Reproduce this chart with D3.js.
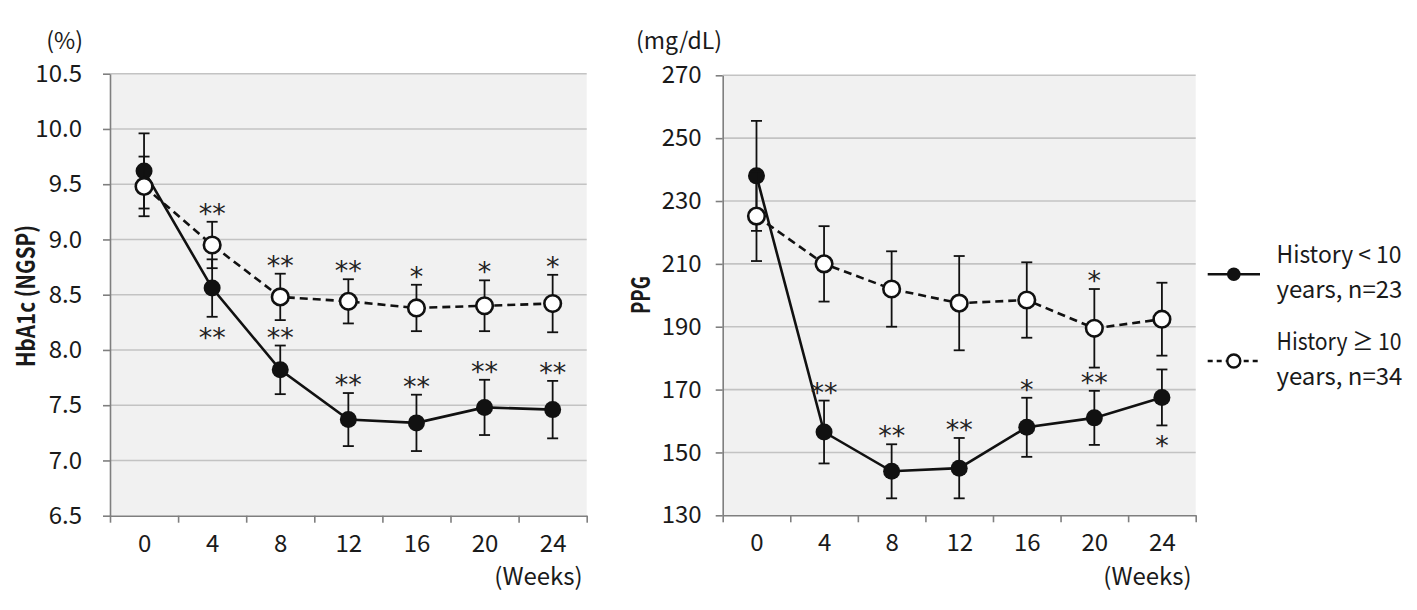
<!DOCTYPE html>
<html>
<head>
<meta charset="utf-8">
<script src="https://cdn.jsdelivr.net/npm/d3@7"></script>
<style>
  html, body { margin: 0; padding: 0; background: #fff; }
  svg { display: block; }
  text { font-family: "Noto Sans CJK JP", "Noto Sans", sans-serif; fill: #1a1a1a; }
</style>
</head>
<body>
<svg id="chart" width="1417" height="610"></svg>
<script>
// ---------------- DATA ----------------
const weeks = [0, 4, 8, 12, 16, 20, 24];
const weekBoundaries = [-2, 2, 6, 10, 14, 18, 22, 26];

const hba1cTicks = [6.5, 7.0, 7.5, 8.0, 8.5, 9.0, 9.5, 10.0, 10.5];
const ppgTicks = [130, 150, 170, 190, 210, 230, 250, 270];

// History < 10 years (filled circles, solid line)
const hba1cShort    = [9.62, 8.56, 7.82, 7.37, 7.34, 7.48, 7.46];
const hba1cShortErr = [0.34, 0.26, 0.22, 0.24, 0.255, 0.25, 0.26];
const hba1cShortSig = ["", "**", "**", "**", "**", "**", "**"];
const hba1cShortSigSide = ["", "below", "above", "above", "above", "above", "above"];

// History >= 10 years (open circles, dashed line)
const hba1cLong    = [9.48, 8.95, 8.48, 8.44, 8.38, 8.40, 8.42];
const hba1cLongErr = [0.27, 0.21, 0.21, 0.20, 0.21, 0.23, 0.26];
const hba1cLongSig = ["", "**", "**", "**", "*", "*", "*"];
const hba1cLongSigSide = ["", "above", "above", "above", "above", "above", "above"];

const ppgShort    = [238, 156.5, 144, 145, 158, 161, 167.5];
const ppgShortErr = [17.5, 10, 8.6, 9.6, 9.4, 8.6, 8.9];
const ppgShortSig = ["", "**", "**", "**", "*", "**", "*"];
const ppgShortSigSide = ["", "above", "above", "above", "above", "above", "below"];

const ppgLong    = [225.2, 210, 202, 197.5, 198.5, 189.5, 192.4];
const ppgLongErr = [14.3, 12, 12, 15, 12, 12.5, 11.6];
const ppgLongSig = ["", "", "", "", "", "*", ""];
const ppgLongSigSide = ["", "", "", "", "", "above", ""];

const legendLabels = [["History < 10", "years, n=23"], ["History \u2265 10", "years, n=34"]];

// ---------------- DRAW ----------------
const svg = d3.select("#chart");
svg.append("rect").attr("width", 1417).attr("height", 610).attr("fill", "#fff");

const AXIS = "#7f7f7f", GRID = "#c3c3c3", BG = "#f1f1f1";
const FS = 24;

function panel(p) {
  const x = d3.scaleLinear().domain([weekBoundaries[0], weekBoundaries[weekBoundaries.length - 1]]).range([p.x0, p.x1]);
  const y = d3.scaleLinear().domain([p.ticks[0], p.ticks[p.ticks.length - 1]]).range([p.y1, p.y0]);
  const g = svg.append("g");

  g.append("rect").attr("x", p.x0).attr("y", y(p.ticks[p.ticks.length - 1]))
    .attr("width", p.x1 - p.x0).attr("height", y(p.ticks[0]) - y(p.ticks[p.ticks.length - 1]))
    .attr("fill", BG);

  g.selectAll("line.grid").data(p.ticks.slice(1)).join("line").attr("class", "grid")
    .attr("x1", p.x0).attr("x2", p.x1).attr("y1", d => y(d)).attr("y2", d => y(d))
    .attr("stroke", GRID).attr("stroke-width", 1.6);

  // y axis
  const ya = g.append("g").attr("transform", `translate(${p.x0},0)`)
    .call(d3.axisLeft(y).tickValues(p.ticks).tickFormat(p.fmt).tickSize(7).tickSizeOuter(0).tickPadding(p.ypad));
  ya.select(".domain").attr("stroke", AXIS).attr("stroke-width", 1.6);
  ya.selectAll(".tick line").attr("stroke", AXIS).attr("stroke-width", 1.6);
  ya.selectAll(".tick text").attr("font-size", FS).attr("font-family", null).style("fill", "#1a1a1a");

  // x axis: boundary ticks
  const xb = g.append("g").attr("transform", `translate(0,${y(p.ticks[0])})`)
    .call(d3.axisBottom(x).tickValues(weekBoundaries).tickFormat("").tickSize(7).tickSizeOuter(0));
  xb.select(".domain").attr("stroke", AXIS).attr("stroke-width", 1.6);
  xb.selectAll(".tick line").attr("stroke", AXIS).attr("stroke-width", 1.6);
  // x axis: labels
  const xl = g.append("g").attr("transform", `translate(0,${y(p.ticks[0])})`)
    .call(d3.axisBottom(x).tickValues(weeks).tickFormat(d3.format("d")).tickSize(0).tickPadding(19));
  xl.select(".domain").remove();
  xl.selectAll(".tick text").attr("font-size", FS).attr("font-family", null).style("fill", "#1a1a1a");

  g.append("text").attr("x", p.x1 - 4).attr("y", 585).attr("text-anchor", "end")
    .attr("font-size", FS).text("(Weeks)");
  g.append("text").attr("x", p.unitX).attr("y", 49).attr("text-anchor", "end")
    .attr("font-size", 23).text(p.unit);
  g.append("text").attr("transform", `translate(${p.titleX},${p.titleY}) rotate(-90)`)
    .attr("text-anchor", "middle").attr("font-size", p.titleFS).attr("font-weight", "bold")
    .attr("textLength", p.titleLen).attr("lengthAdjust", "spacingAndGlyphs").text(p.title);

  const series = [
    { v: p.shortV, e: p.shortE, sig: p.shortSig, side: p.shortSide, filled: true },
    { v: p.longV, e: p.longE, sig: p.longSig, side: p.longSide, filled: false }
  ];
  series.forEach(s => {
    const data = weeks.map((w, i) => ({ w, v: s.v[i], e: s.e[i], sig: s.sig[i], side: s.side[i] }));
    const sg = g.append("g");
    // error bars
    sg.selectAll("line.eb").data(data).join("line")
      .attr("x1", d => x(d.w)).attr("x2", d => x(d.w))
      .attr("y1", d => y(d.v - d.e)).attr("y2", d => y(d.v + d.e))
      .attr("stroke", "#111").attr("stroke-width", 1.8);
    sg.selectAll("line.capT").data(data).join("line")
      .attr("x1", d => x(d.w) - 5.5).attr("x2", d => x(d.w) + 5.5)
      .attr("y1", d => y(d.v + d.e)).attr("y2", d => y(d.v + d.e))
      .attr("stroke", "#111").attr("stroke-width", 1.8);
    sg.selectAll("line.capB").data(data).join("line")
      .attr("x1", d => x(d.w) - 5.5).attr("x2", d => x(d.w) + 5.5)
      .attr("y1", d => y(d.v - d.e)).attr("y2", d => y(d.v - d.e))
      .attr("stroke", "#111").attr("stroke-width", 1.8);
    // line
    sg.append("path").datum(data)
      .attr("d", d3.line().x(d => x(d.w)).y(d => y(d.v)))
      .attr("fill", "none").attr("stroke", "#111").attr("stroke-width", 2.6)
      .attr("stroke-dasharray", s.filled ? null : "8,5");
    // markers
    sg.selectAll("circle").data(data).join("circle")
      .attr("cx", d => x(d.w)).attr("cy", d => y(d.v))
      .attr("r", s.filled ? 8.5 : 8.3)
      .attr("fill", s.filled ? "#111" : "#fff")
      .attr("stroke", "#111").attr("stroke-width", s.filled ? 0 : 2.6);
    // significance
    sg.selectAll("text.sig").data(data.filter(d => d.sig)).join("text")
      .attr("x", d => x(d.w)).attr("text-anchor", "middle")
      .attr("y", d => d.side === "below" ? y(d.v - d.e) + 30 : y(d.v + d.e) + 1)
      .style("font-family", "'DejaVu Sans', sans-serif").style("fill", "#222")
      .attr("font-size", 27).text(d => d.sig);
  });
}

panel({
  x0: 110, x1: 586.7, y0: 73.7, y1: 515.7, ticks: hba1cTicks, fmt: d3.format(".1f"), ypad: 21,
  shortV: hba1cShort, shortE: hba1cShortErr, shortSig: hba1cShortSig, shortSide: hba1cShortSigSide,
  longV: hba1cLong, longE: hba1cLongErr, longSig: hba1cLongSig, longSide: hba1cLongSigSide,
  unit: "(%)", unitX: 83, title: "HbA1c (NGSP)", titleX: 35, titleY: 296, titleFS: 25, titleLen: 142
});
panel({
  x0: 722.7, x1: 1195.7, y0: 75.3, y1: 515.3, ticks: ppgTicks, fmt: d3.format("d"), ypad: 14,
  shortV: ppgShort, shortE: ppgShortErr, shortSig: ppgShortSig, shortSide: ppgShortSigSide,
  longV: ppgLong, longE: ppgLongErr, longSig: ppgLongSig, longSide: ppgLongSigSide,
  unit: "(mg/dL)", unitX: 722, title: "PPG", titleX: 650, titleY: 295, titleFS: 25, titleLen: 38
});

// legend
const lg = svg.append("g");
const legendY = [274.3, 361];
legendLabels.forEach((lab, i) => {
  const yy = legendY[i];
  lg.append("line").attr("x1", 1207.7).attr("x2", 1260).attr("y1", yy).attr("y2", yy)
    .attr("stroke", "#111").attr("stroke-width", 2.6).attr("stroke-dasharray", i === 0 ? null : "5,4");
  lg.append("circle").attr("cx", 1233.8).attr("cy", yy).attr("r", i === 0 ? 6.8 : 6.5)
    .attr("fill", i === 0 ? "#111" : "#fff").attr("stroke", "#111").attr("stroke-width", i === 0 ? 0 : 2.4);
  lg.append("text").attr("x", 1276.5).attr("y", yy - 11).attr("font-size", FS)
    .attr("textLength", 125).attr("lengthAdjust", "spacingAndGlyphs").text(lab[0]);
  lg.append("text").attr("x", 1276.5).attr("y", yy + 24).attr("font-size", FS).text(lab[1]);
});
</script>
</body>
</html>
